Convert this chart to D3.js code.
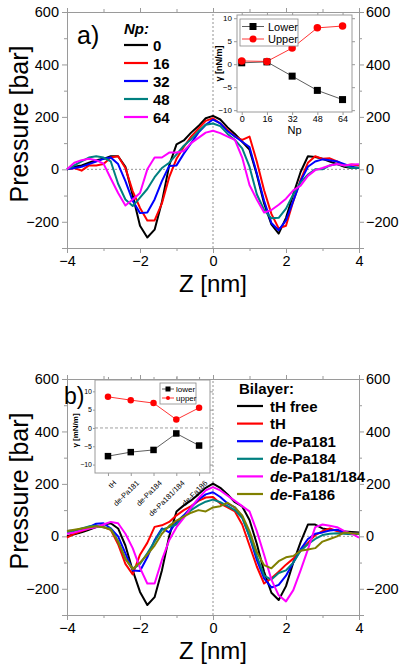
<!DOCTYPE html>
<html><head><meta charset="utf-8">
<script src="https://cdn.jsdelivr.net/npm/d3@7"></script>
<style>
html,body{margin:0;padding:0;background:#fff;}
svg{display:block;font-family:"Liberation Sans",Arial,sans-serif;}
</style></head>
<body>
<svg id="chart" width="400" height="667"></svg>
<script>
// ---------- DATA ----------
const zGrid = [-4.0,-3.8,-3.6,-3.4,-3.2,-3.0,-2.8,-2.6,-2.4,-2.2,-2.0,-1.8,-1.6,-1.4,-1.2,-1.0,-0.8,-0.6,-0.4,-0.2,0.0,
  0.2,0.4,0.6,0.8,1.0,1.2,1.4,1.6,1.8,2.0,2.2,2.4,2.6,2.8,3.0,3.2,3.4,3.6,3.8,4.0];

// Panel a) : pressure profiles for Np = 0,16,32,48,64
const npLabels = ["0","16","32","48","64"];
const pA_np0  = [0,10,15,25,35,40,50,50,10,-100,-215,-260,-230,-125,15,95,110,140,165,195,204,190,160,135,105,75,-20,-130,-210,-245,-185,-95,-10,50,47,40,30,20,10,5,5];
const pA_np16 = [0,5,-5,15,15,20,45,50,5,-83,-147,-195,-195,-130,-30,40,85,125,155,185,195,175,150,125,112,125,30,-80,-170,-225,-215,-121,-40,25,50,40,42,30,15,18,15];
const pA_np32 = [0,5,10,20,30,40,45,20,-45,-120,-167,-165,-115,-45,13,15,60,100,140,170,190,175,145,125,105,85,-15,-120,-205,-232,-195,-120,-45,10,30,38,35,30,20,10,5];
const pA_np48 = [0,15,30,45,50,45,30,-55,-115,-140,-108,-75,-30,5,25,57,90,115,145,170,175,165,135,112,80,10,-95,-155,-187,-185,-150,-95,-50,-20,0,0,15,20,15,5,6];
const pA_np64 = [0,25,35,40,35,22,-35,-90,-138,-115,-90,0,45,45,64,64,70,100,120,140,147,138,125,112,45,-60,-115,-165,-155,-135,-112,-80,-62,-25,-3,5,15,20,15,18,19];

// Panel b) : pressure profiles for bilayers
const bilayerLabels = ["tH free","tH","de-Pa181","de-Pa184","de-Pa181/184","de-Fa186"];
const pB_tHfree = [0,8,15,25,35,45,50,30,-35,-130,-212,-262,-232,-130,0,95,118,137,160,185,201,185,160,130,114,62,-28,-135,-215,-243,-190,-100,-22,45,45,30,25,23,18,17,15];
const pB_tH     = [-5,10,20,30,40,35,25,-30,-105,-145,-70,-25,36,42,55,80,100,115,135,148,150,125,110,95,45,-35,-115,-180,-160,-135,-108,-85,-55,-25,5,20,30,20,12,10,10];
const pB_Pa181  = [20,22,28,35,48,50,30,0,-65,-130,-132,-80,-15,30,15,55,80,110,140,160,168,150,125,110,75,0,-90,-160,-195,-185,-150,-100,-50,-10,10,15,22,25,15,12,10];
const pB_Pa184  = [15,20,30,38,40,35,30,-20,-85,-125,-105,-65,-20,25,35,45,75,100,118,132,140,130,115,100,70,0,-75,-150,-165,-140,-130,-100,-55,-30,-10,5,10,12,10,8,10];
const pB_Pa181_184 = [10,15,22,30,35,45,55,50,10,-45,-120,-180,-180,-90,-15,35,70,110,145,175,188,175,155,135,115,95,20,-70,-165,-225,-248,-205,-130,-50,35,45,40,35,20,10,-5];
const pB_Fa186  = [20,25,30,35,38,35,25,-20,-85,-125,-100,-70,-35,10,40,60,75,90,100,95,110,115,128,110,80,20,-60,-110,-122,-95,-80,-75,-55,-50,-45,-20,-10,0,15,12,10];

// Inset a) : surface tension vs Np
const insetA_np = [0,16,32,48,64];
const insetA_lower = [0.3,0.5,-2.6,-5.7,-7.7];
const insetA_upper = [0.7,0.6,3.5,7.9,8.3];

// Inset b) : surface tension per bilayer
const insetB_cats = ["tH","de-Pa181","de-Pa184","de-Pa181/184","de-Fa186"];
const insetB_lower = [-7.7,-6.6,-6.0,-1.5,-4.8];
const insetB_upper = [8.5,7.6,6.8,2.3,5.5];

const pTicks = [-200,0,200,400,600];
const zTicks = [-4,-2,0,2,4];

// ---------- STYLE ----------
const colorsA = ["#000000","#ff0000","#0000ff","#008080","#ff00ff"];
const colorsB = ["#000000","#ff0000","#0000ff","#008080","#ff00ff","#808000"];
const frameCol = "#9a9a9a";

const svg = d3.select("#chart");

function mainPanel(cfg){
  const {top, bottom, left, right, series, colors, tag, tagPos} = cfg;
  const x = d3.scaleLinear().domain([-4,4]).range([left,right]);
  const y = d3.scaleLinear().domain([-300,600]).range([bottom,top]);
  const g = svg.append("g");
  g.append("line").attr("x1",x(-4)).attr("x2",x(4)).attr("y1",y(0)).attr("y2",y(0))
    .attr("stroke","#777").attr("stroke-width",0.8).attr("stroke-dasharray","2,2");
  g.append("line").attr("x1",x(0)).attr("x2",x(0)).attr("y1",y(-300)).attr("y2",y(600))
    .attr("stroke","#777").attr("stroke-width",0.8).attr("stroke-dasharray","2,2");
  const axL = d3.axisLeft(y).tickValues(pTicks).tickSize(5).tickPadding(3);
  const axR = d3.axisRight(y).tickValues(pTicks).tickSize(5).tickPadding(2);
  const axB = d3.axisBottom(x).tickValues(zTicks).tickSize(5).tickPadding(3);
  const axT = d3.axisTop(x).tickValues(zTicks).tickSize(4).tickFormat("");
  const mL = d3.axisLeft(y).tickValues([-300,-100,100,300,500]).tickSize(3).tickFormat("");
  const mR = d3.axisRight(y).tickValues([-300,-100,100,300,500]).tickSize(3).tickFormat("");
  const mB = d3.axisBottom(x).tickValues([-3,-1,1,3]).tickSize(3).tickFormat("");
  const mT = d3.axisTop(x).tickValues([-3,-1,1,3]).tickSize(3).tickFormat("");
  const put = (ax, tr) => {
    const a = g.append("g").attr("transform",tr).call(ax);
    a.selectAll("path,line").attr("stroke",frameCol);
    a.selectAll("text").attr("fill","#000").attr("font-size",14.5);
    return a;
  };
  put(axL,`translate(${left},0)`); put(mL,`translate(${left},0)`);
  put(axR,`translate(${right},0)`); put(mR,`translate(${right},0)`);
  put(axB,`translate(0,${bottom})`); put(mB,`translate(0,${bottom})`);
  put(axT,`translate(0,${top})`); put(mT,`translate(0,${top})`);
  const line = d3.line().x((d,i)=>x(zGrid[i])).y(d=>y(d));
  series.forEach((s,k)=>{
    g.append("path").datum(s).attr("d",line).attr("fill","none")
      .attr("stroke",colors[k]).attr("stroke-width",2).attr("stroke-linejoin","round");
  });
  g.append("text").attr("x",(left+right)/2).attr("y",bottom+44).attr("text-anchor","middle")
    .attr("font-size",24).text("Z [nm]");
  g.append("text").attr("transform",`translate(28,${(top+bottom)/2 - 6}) rotate(-90)`)
    .attr("text-anchor","middle").attr("font-size",25).text("Pressure [bar]");
  g.append("text").attr("x",tagPos[0]).attr("y",tagPos[1]).attr("font-size",tagPos[2]).text(tag);
  return {x,y,g};
}

mainPanel({top:12,bottom:248,left:67,right:359,
  series:[pA_np0,pA_np16,pA_np32,pA_np48,pA_np64],colors:colorsA,tag:"a)",tagPos:[77,44,25]});
mainPanel({top:379,bottom:615,left:67,right:359,
  series:[pB_tHfree,pB_tH,pB_Pa181,pB_Pa184,pB_Pa181_184,pB_Fa186],colors:colorsB,tag:"b)",tagPos:[64,404,23]});

// Legend a
(function(){
  const g = svg.append("g");
  g.append("text").attr("x",124).attr("y",34).attr("font-size",15).attr("font-weight","bold")
    .attr("font-style","italic").text("Np:");
  npLabels.forEach((t,i)=>{
    const yy = 45 + i*18;
    g.append("line").attr("x1",124).attr("x2",148).attr("y1",yy).attr("y2",yy)
      .attr("stroke",colorsA[i]).attr("stroke-width",2.2);
    g.append("text").attr("x",153).attr("y",yy+5.5).attr("font-size",15).attr("font-weight","bold").text(t);
  });
})();

// Legend b
(function(){
  const g = svg.append("g");
  g.append("text").attr("x",239).attr("y",394).attr("font-size",15).attr("font-weight","bold").text("Bilayer:");
  bilayerLabels.forEach((t,i)=>{
    const yy = 406 + i*17.6;
    g.append("line").attr("x1",237).attr("x2",263).attr("y1",yy).attr("y2",yy)
      .attr("stroke",colorsB[i]).attr("stroke-width",2.2);
    const tx = g.append("text").attr("x",270).attr("y",yy+5.5).attr("font-size",15).attr("font-weight","bold");
    if (t.startsWith("de-")) {
      tx.append("tspan").attr("font-style","italic").text("de");
      tx.append("tspan").text(t.slice(2));
    } else tx.text(t);
  });
})();

function marker(g, type, cx, cy, col, s){
  if (type==="sq") g.append("rect").attr("x",cx-s/2).attr("y",cy-s/2).attr("width",s).attr("height",s).attr("fill",col);
  else g.append("circle").attr("cx",cx).attr("cy",cy).attr("r",s/2).attr("fill",col);
}

// Inset a
(function(){
  const L=237,R=352,T=15,B=112;
  const x = d3.scaleLinear().domain([-3,70]).range([L,R]);
  const y = d3.scaleLinear().domain([-10.4,10.7]).range([B,T]);
  const g = svg.append("g");
  g.append("rect").attr("x",L).attr("y",T).attr("width",R-L).attr("height",B-T).attr("fill","#fff").attr("stroke",frameCol);
  const ax = (a,tr)=>{const s=g.append("g").attr("transform",tr).call(a);
    s.select(".domain").remove(); s.selectAll("line").attr("stroke",frameCol);
    s.selectAll("text").attr("fill","#000"); return s;};
  ax(d3.axisLeft(y).tickValues([-10,-5,0,5,10]).tickSize(3).tickPadding(2),`translate(${L},0)`)
    .selectAll("text").attr("font-size",8);
  ax(d3.axisBottom(x).tickValues(insetA_np).tickSize(3).tickPadding(1),`translate(0,${B})`)
    .selectAll("text").attr("font-size",9);
  ax(d3.axisTop(x).tickValues(insetA_np).tickSize(3).tickFormat(""),`translate(0,${T})`);
  ax(d3.axisRight(y).tickValues([-10,-5,0,5,10]).tickSize(3).tickFormat(""),`translate(${R},0)`);
  g.append("text").attr("x",(L+R)/2).attr("y",B+22).attr("text-anchor","middle").attr("font-size",11).text("Np");
  g.append("text").attr("transform",`translate(${L-15},${(T+B)/2}) rotate(-90)`).attr("text-anchor","middle")
    .attr("font-size",9).attr("font-weight","bold").text("γ [nN/m]");
  const ln = d3.line().x((d,i)=>x(insetA_np[i])).y(d=>y(d));
  g.append("path").datum(insetA_lower).attr("d",ln).attr("fill","none").attr("stroke","#333").attr("stroke-width",0.8);
  g.append("path").datum(insetA_upper).attr("d",ln).attr("fill","none").attr("stroke","#ff0000").attr("stroke-width",0.8);
  insetA_lower.forEach((v,i)=>marker(g,"sq",x(insetA_np[i]),y(v),"#000",7));
  insetA_upper.forEach((v,i)=>marker(g,"ci",x(insetA_np[i]),y(v),"#ff0000",7.5));
  g.append("rect").attr("x",240).attr("y",19).attr("width",58).attr("height",27).attr("fill","#fff").attr("stroke","#888").attr("stroke-width",0.8);
  [["Lower","#000","sq"],["Upper","#ff0000","ci"]].forEach((e,i)=>{
    const yy = 26.5+i*12.5;
    g.append("line").attr("x1",242).attr("x2",264).attr("y1",yy).attr("y2",yy).attr("stroke",e[1]==="#000"?"#333":e[1]).attr("stroke-width",0.8);
    marker(g,e[2],253,yy,e[1],7);
    g.append("text").attr("x",268).attr("y",yy+4).attr("font-size",11).text(e[0]);
  });
})();

// Inset b
(function(){
  const L=95,R=210,T=380,B=473;
  const x = d3.scaleLinear().domain([-0.57,4.48]).range([L,R]);
  const y = d3.scaleLinear().domain([-12.3,13.1]).range([B,T]);
  const g = svg.append("g");
  g.append("rect").attr("x",L).attr("y",T).attr("width",R-L).attr("height",B-T).attr("fill","#fff").attr("stroke",frameCol);
  g.append("line").attr("x1",L).attr("x2",R).attr("y1",y(0)).attr("y2",y(0)).attr("stroke","#888").attr("stroke-width",0.8).attr("stroke-dasharray","3,2");
  const ax = (a,tr)=>{const s=g.append("g").attr("transform",tr).call(a);
    s.select(".domain").remove(); s.selectAll("line").attr("stroke",frameCol);
    s.selectAll("text").attr("fill","#000"); return s;};
  ax(d3.axisLeft(y).tickValues([-10,-5,0,5,10]).tickSize(2).tickPadding(1),`translate(${L},0)`)
    .selectAll("text").attr("font-size",7);
  const xa = ax(d3.axisBottom(x).tickValues(d3.range(insetB_cats.length)).tickSize(3).tickFormat(i=>insetB_cats[i]),`translate(0,${B})`);
  xa.selectAll("text").attr("font-size",7.5).attr("text-anchor","end")
    .attr("transform","translate(2,2) rotate(-45)").attr("dy","0.6em").attr("dx","-0.2em");
  ax(d3.axisTop(x).tickValues([0,1,2,3,4]).tickSize(3).tickFormat(""),`translate(0,${T})`);
  ax(d3.axisRight(y).tickValues([-10,-5,0,5,10]).tickSize(3).tickFormat(""),`translate(${R},0)`);
  g.append("text").attr("transform",`translate(${L-17},${(T+B)/2+4}) rotate(-90)`).attr("text-anchor","middle")
    .attr("font-size",8).attr("font-weight","bold").text("γ [mN/m]");
  const ln = d3.line().x((d,i)=>x(i)).y(d=>y(d));
  g.append("path").datum(insetB_lower).attr("d",ln).attr("fill","none").attr("stroke","#333").attr("stroke-width",0.8);
  g.append("path").datum(insetB_upper).attr("d",ln).attr("fill","none").attr("stroke","#ff0000").attr("stroke-width",0.8);
  insetB_lower.forEach((v,i)=>marker(g,"sq",x(i),y(v),"#000",6.5));
  insetB_upper.forEach((v,i)=>marker(g,"ci",x(i),y(v),"#ff0000",6.5));
  g.append("rect").attr("x",160).attr("y",383).attr("width",36).attr("height",21).attr("fill","#fff").attr("stroke","#888").attr("stroke-width",0.8);
  [["lower","#000","sq"],["upper","#ff0000","ci"]].forEach((e,i)=>{
    const yy = 389+i*9;
    g.append("line").attr("x1",162).attr("x2",174).attr("y1",yy).attr("y2",yy).attr("stroke",e[1]==="#000"?"#333":e[1]).attr("stroke-width",0.8);
    marker(g,e[2],168,yy,e[1],e[2]==="sq"?5:4);
    g.append("text").attr("x",176).attr("y",yy+3).attr("font-size",8).text(e[0]);
  });
})();
</script>
</body></html>
